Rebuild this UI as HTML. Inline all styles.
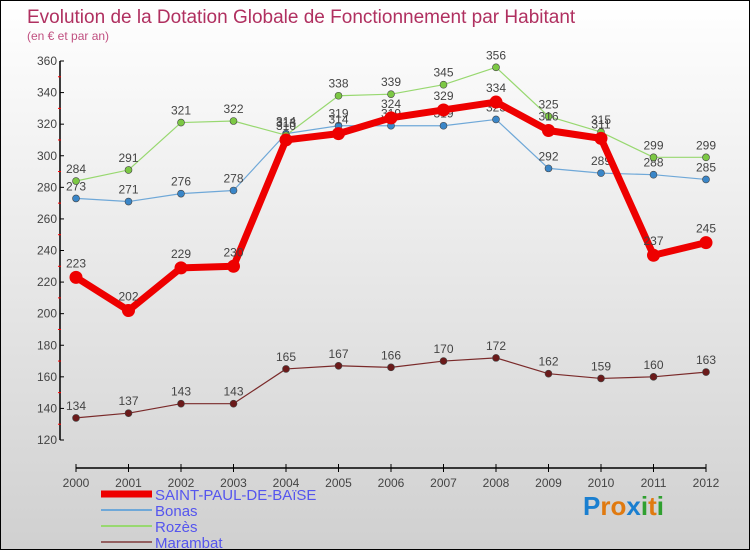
<!DOCTYPE html>
<html><head><meta charset="utf-8"><style>
body{margin:0;width:750px;height:550px;overflow:hidden;font-family:"Liberation Sans",sans-serif}
#wrap{position:relative;width:748px;height:548px;border:1px solid #000;background:linear-gradient(#fff,#d0d0d0)}
</style></head><body>
<div id="wrap">
<svg id="chart" width="748" height="548">
<text x="26" y="22" font-size="19" fill="#b03060">Evolution de la Dotation Globale de Fonctionnement par Habitant</text>
<text x="26" y="39" font-size="12" fill="#c05080">(en € et par an)</text>
</svg>
</div>
<script>
const years=["2000","2001","2002","2003","2004","2005","2006","2007","2008","2009","2010","2011","2012"];
const yTicks=[120,140,160,180,200,220,240,260,280,300,320,340,360];
const saintPaul=[223,202,229,230,310,314,324,329,334,316,311,237,245];
const bonas=[273,271,276,278,314,319,319,319,323,292,289,288,285];
const rozes=[284,291,321,322,313,338,339,345,356,325,315,299,299];
const marambat=[134,137,143,143,165,167,166,170,172,162,159,160,163];
const series=[
 {name:"Marambat",key:"marambat",data:marambat,color:"#7a2a2a",w:1.2,r:3.5,dot:"#6b1a1a"},
 {name:"Bonas",key:"bonas",data:bonas,color:"#6fa8d8",w:1.2,r:3.5,dot:"#3a86c8"},
 {name:"Rozès",key:"rozes",data:rozes,color:"#98d870",w:1.2,r:3.5,dot:"#7cc844"},
 {name:"SAINT-PAUL-DE-BAïSE",key:"saint-paul",data:saintPaul,color:"#ee0000",w:7,r:6.5,dot:"#ee0000"}
];
const NS="http://www.w3.org/2000/svg";
const svg=document.getElementById("chart");
const X0=75,XS=52.5,Y0=439,YMIN=120,YS=379/240;
const xp=i=>X0+i*XS, yp=v=>Y0-(v-YMIN)*YS;
function el(t,a,p){const e=document.createElementNS(NS,t);for(const k in a)e.setAttribute(k,a[k]);(p||svg).appendChild(e);return e;}
// y axis
let ya=el("line",{x1:59,y1:yp(360),x2:59,y2:Y0,stroke:"#000","stroke-width":1.5});


yTicks.forEach((v,i)=>{
 el("line",{x1:59,y1:yp(v),x2:63,y2:yp(v),stroke:"#000"});
 if(i<yTicks.length-1) el("line",{x1:57,y1:yp(v+10),x2:60,y2:yp(v+10),stroke:"#f00"});
 const t=el("text",{x:56,y:yp(v)+4,"font-size":12,fill:"#444","text-anchor":"end"});
 t.textContent=v;
 
 
});
// x axis
let xa=el("line",{x1:xp(0),y1:467,x2:xp(12),y2:467,stroke:"#000","stroke-width":1.5});


years.forEach((y,i)=>{
 el("line",{x1:xp(i),y1:463,x2:xp(i),y2:471,stroke:"#000"});
 const t=el("text",{x:xp(i),y:486,"font-size":12,fill:"#444","text-anchor":"middle"});
 t.textContent=y;
 
 
});
series.forEach(s=>{
 const g=el("g",{});
 
 
 const pl=el("polyline",{points:s.data.map((v,i)=>xp(i)+","+yp(v)).join(" "),fill:"none",stroke:s.color,"stroke-width":s.w,"stroke-linejoin":"round"},g);
 
 
 s.data.forEach((v,i)=>{
  const c=el("circle",{cx:xp(i),cy:yp(v),r:s.r,fill:s.dot,stroke:"#444","stroke-width":s.w>2?0:0.6},g);
  
  
  const t=el("text",{x:xp(i),y:yp(v)-(s.w>2?10:8),"font-size":12,fill:"#444","text-anchor":"middle"},g);
  t.textContent=v;
  
  
 });
});
// legend
const leg=[["SAINT-PAUL-DE-BAïSE","#ee0000",7],["Bonas","#6fa8d8",2],["Rozès","#98d870",2],["Marambat","#946060",2]];
leg.forEach((l,i)=>{
 const yy=493+i*16;
 const g=el("g",{});
 
 
 el("line",{x1:100,y1:yy,x2:151,y2:yy,stroke:l[1],"stroke-width":l[2]},g);
 const t=el("text",{x:154,y:yy+6,"font-size":15,fill:"#5555ee"},g);
 t.textContent=l[0];
});
const lg=el("text",{x:582,y:514,"font-size":26,"font-weight":"bold"});


[["P","#1a7fd0"],["r","#e07a10"],["o","#e07a10"],["x","#1a7fd0"],["i","#30a030"],["t","#e07a10"],["i","#30a030"]].forEach(c=>{const s=el("tspan",{fill:c[1]},lg);s.textContent=c[0];});
</script>
</body></html>
